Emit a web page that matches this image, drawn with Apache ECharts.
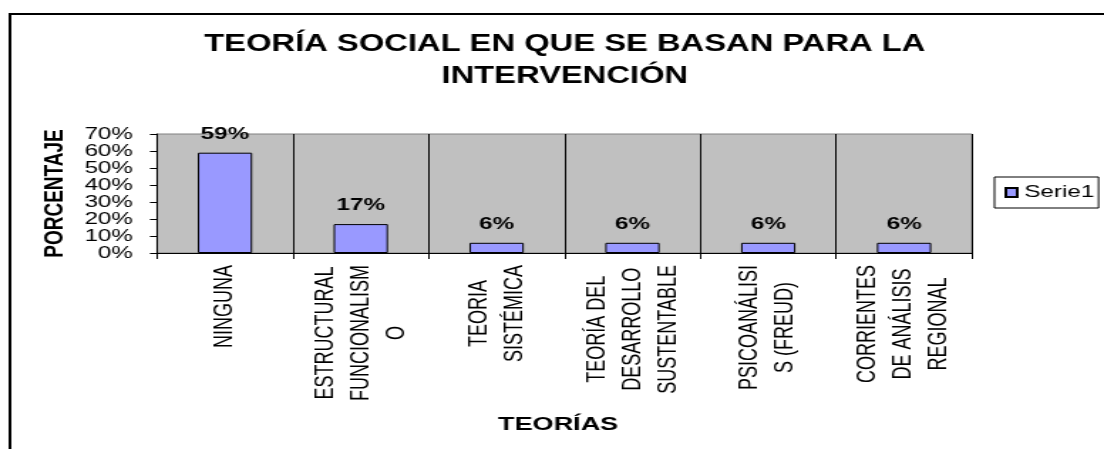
<!DOCTYPE html>
<html>
<head>
<meta charset="utf-8">
<script src="https://cdn.jsdelivr.net/npm/echarts@6/dist/echarts.min.js"></script>
<style>
  html, body { margin: 0; padding: 0; background: #fff; overflow: hidden; }
  /* la imagen original viene estirada en horizontal: se dibuja angosta y se escala */
  #grafico { width: 776px; height: 449px; transform: scaleX(1.4227); transform-origin: 0 0; }
</style>
</head>
<body>
<div id="grafico"></div>
<script>
// datos del grafico
var titulo = "TEORÍA SOCIAL EN QUE SE BASAN PARA LA\nINTERVENCIÓN";
var categorias = [
  "NINGUNA",
  "ESTRUCTURAL\nFUNCIONALISM\nO",
  "TEORIA\nSISTÉMICA",
  "TEORÍA DEL\nDESARROLLO\nSUSTENTABLE",
  "PSICOANÁLISI\nS (FREUD)",
  "CORRIENTES\nDE ANÁLISIS\nREGIONAL"
];
var serie1 = [0.59, 0.17, 0.06, 0.06, 0.06, 0.06];
var nombreSerie = "Serie1";
var fuente = "'Liberation Sans', Arial, sans-serif";

var myChart = echarts.init(document.getElementById("grafico"));
myChart.setOption({
  backgroundColor: "#ffffff",
  animation: false,
  title: {
    text: titulo,
    left: 397,
    textAlign: "center",
    top: 29,
    padding: 0,
    textStyle: {
      fontFamily: fuente,
      fontSize: 23,
      fontWeight: "bold",
      lineHeight: 32,
      color: "#000"
    }
  },
  graphic: [
    {
      type: "rect",
      shape: { x: 7, y: 14, width: 1000, height: 1000 },
      style: { fill: "none", stroke: "#000", lineWidth: 2 },
      silent: true
    }
  ],
  legend: {
    data: [nombreSerie],
    left: 699,
    top: 177,
    icon: "rect",
    itemWidth: 8,
    itemHeight: 9,
    padding: [7, 3, 7, 7],
    borderColor: "#000",
    borderWidth: 1,
    textStyle: { fontFamily: fuente, fontSize: 17, color: "#000" }
  },
  grid: {
    left: 110.4,
    right: 92.8,
    top: 134,
    bottom: 196,
    show: true,
    backgroundColor: "#c0c0c0",
    borderColor: "#808080",
    borderWidth: 1
  },
  xAxis: {
    type: "category",
    data: categorias,
    name: "TEORÍAS",
    nameLocation: "middle",
    nameGap: 162,
    nameTextStyle: {
      fontFamily: fuente,
      fontSize: 19,
      fontWeight: "bold",
      color: "#000",
      padding: [0, 9, 0, 0]
    },
    axisLine: { lineStyle: { color: "#000", width: 1 } },
    axisTick: { show: true, length: 6, lineStyle: { color: "#000" } },
    splitLine: { show: true, lineStyle: { color: "#000", width: 1 } },
    axisLabel: {
      rotate: 90,
      margin: 12,
      interval: 0,
      formatter: function (v) {
        return v.split("\n").map(function (l) { return "{c|" + l + "}"; }).join("\n");
      },
      rich: {
        c: { fontFamily: fuente, fontSize: 18, lineHeight: 25, align: "center", color: "#000" }
      }
    }
  },
  yAxis: {
    type: "value",
    min: 0,
    max: 0.7,
    interval: 0.1,
    name: "PORCENTAJE",
    nameLocation: "middle",
    nameRotate: 90,
    nameGap: 56,
    nameTextStyle: { fontFamily: fuente, fontSize: 19, fontWeight: "bold", color: "#000" },
    axisLine: { show: true, lineStyle: { color: "#000", width: 1 } },
    axisTick: { show: true, length: 5, lineStyle: { color: "#000" } },
    splitLine: { show: false },
    axisLabel: {
      margin: 17,
      fontFamily: fuente,
      fontSize: 17,
      color: "#000",
      formatter: function (v) { return Math.round(v * 100) + "%"; }
    }
  },
  series: [
    {
      name: nombreSerie,
      type: "bar",
      data: serie1,
      barWidth: "40%",
      itemStyle: { color: "#9999ff", borderColor: "#000", borderWidth: 1 },
      label: {
        show: true,
        position: "top",
        distance: 10,
        fontFamily: fuente,
        fontSize: 17,
        fontWeight: "bold",
        color: "#000",
        formatter: function (p) { return Math.round(p.value * 100) + "%"; }
      }
    }
  ]
});
</script>
</body>
</html>
